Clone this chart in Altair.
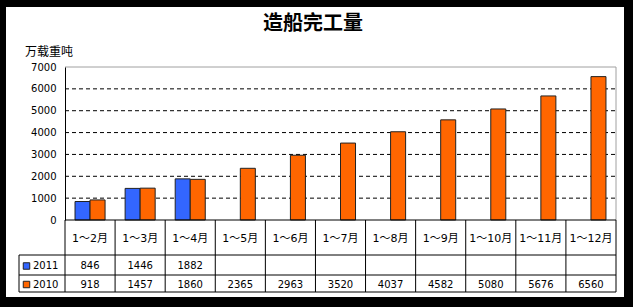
import altair as alt
import pandas as pd

categories = ["1～2月", "1～3月", "1～4月", "1～5月", "1～6月", "1～7月",
              "1～8月", "1～9月", "1～10月", "1～11月", "1～12月"]
v2011 = [846, 1446, 1882, None, None, None, None, None, None, None, None]
v2010 = [918, 1457, 1860, 2365, 2963, 3520, 4037, 4582, 5080, 5676, 6560]
series = ["2011", "2010"]
colors = ["#3366FF", "#FF6600"]
y_ticks = [0, 1000, 2000, 3000, 4000, 5000, 6000, 7000]
title_text = "造船完工量"
unit_text = "万载重吨"

W, H = 551, 153
ROW1, ROW2, ROW3 = 188, 208, 225  # table row bottoms (plot coords)
LEFTCOL = -46

rows = []
for c, a, b in zip(categories, v2011, v2010):
    rows.append({"cat": c, "series": "2011", "value": a})
    rows.append({"cat": c, "series": "2010", "value": b})
df = pd.DataFrame(rows)
df_bars = df.dropna()
one = pd.DataFrame({"k": [0]})
cats_df = pd.DataFrame({"cat": categories})
grid_df = pd.DataFrame({"g": y_ticks[1:-1]})
legend_df = pd.DataFrame({"series": series, "color": colors})

cjk = "Noto Sans CJK SC"
numfont = "DejaVu Sans, Noto Sans CJK SC"

xscale = alt.Scale(domain=categories, paddingInner=0, paddingOuter=0)
yscale = alt.Scale(domain=[0, 7000], nice=False)
cscale = alt.Scale(domain=series, range=colors)
yaxis = alt.Axis(values=y_ticks, format="d", grid=False, ticks=False, domainColor="black",
                 domainWidth=1, labelFont=numfont, labelFontSize=10,
                 labelColor="black", labelPadding=9, title=None, zindex=2)

bg = alt.Chart(one).mark_rect(fill="white").encode(
    x=alt.value(-59), x2=alt.value(559), y=alt.value(-60), y2=alt.value(230))

grid = alt.Chart(grid_df).mark_rule(color="black", strokeDash=[4, 3], strokeWidth=1).encode(
    y=alt.Y("g:Q", scale=yscale, axis=yaxis), x=alt.value(0), x2=alt.value(W))

top_border = alt.Chart(one).mark_rule(color="#a0a0a0").encode(
    x=alt.value(0), x2=alt.value(W), y=alt.value(0))
right_border = alt.Chart(one).mark_rule(color="#a0a0a0").encode(
    x=alt.value(W), y=alt.value(0), y2=alt.value(H))

bars = alt.Chart(df_bars).mark_bar(stroke="#222222", strokeWidth=1).encode(
    x=alt.X("cat:N", scale=xscale, axis=None, sort=categories),
    xOffset=alt.XOffset("series:N", scale=alt.Scale(domain=series, paddingInner=0, paddingOuter=0.667)),
    y=alt.Y("value:Q", scale=yscale, axis=yaxis),
    color=alt.Color("series:N", scale=cscale, legend=None),
)

# table lines
hlines = [
    alt.Chart(one).mark_rule(color="black").encode(x=alt.value(0), x2=alt.value(W), y=alt.value(H)),
    alt.Chart(one).mark_rule(color="black").encode(x=alt.value(LEFTCOL), x2=alt.value(W), y=alt.value(ROW1)),
    alt.Chart(one).mark_rule(color="black").encode(x=alt.value(LEFTCOL), x2=alt.value(W), y=alt.value(ROW2)),
    alt.Chart(one).mark_rule(color="black").encode(x=alt.value(LEFTCOL), x2=alt.value(W), y=alt.value(ROW3)),
]
vlines = [
    alt.Chart(cats_df).mark_rule(color="black").encode(
        x=alt.X("cat:N", scale=xscale, axis=None, bandPosition=0),
        y=alt.value(H), y2=alt.value(ROW3)),
    alt.Chart(one).mark_rule(color="black").encode(x=alt.value(W), y=alt.value(H), y2=alt.value(ROW3)),
    alt.Chart(one).mark_rule(color="black").encode(x=alt.value(LEFTCOL), y=alt.value(ROW1), y2=alt.value(ROW3)),
]

cat_text = alt.Chart(cats_df).mark_text(font=numfont, fontSize=11, color="black", baseline="middle").encode(
    x=alt.X("cat:N", scale=xscale, axis=None, bandPosition=0.5),
    y=alt.value((H + ROW1) / 2 + 1), text="cat:N")

def value_row(ser, ymid):
    d = df[(df["series"] == ser)].dropna()
    return alt.Chart(d).mark_text(font=numfont, fontSize=10, color="black", baseline="middle").encode(
        x=alt.X("cat:N", scale=xscale, axis=None, bandPosition=0.5),
        y=alt.value(ymid), text=alt.Text("value:Q", format="d"))

row2011 = value_row("2011", (ROW1 + ROW2) / 2 + 1)
row2010 = value_row("2010", (ROW2 + ROW3) / 2 + 1)

leg_sq = []
leg_tx = []
for i, (s, c) in enumerate(zip(series, colors)):
    ymid = (ROW1 + ROW2) / 2 + 1 if i == 0 else (ROW2 + ROW3) / 2 + 1
    d = legend_df[legend_df["series"] == s]
    leg_sq.append(alt.Chart(d).mark_point(shape="square", filled=True, size=42, fill=c,
                                          stroke="#222222", strokeWidth=1, opacity=1).encode(
        x=alt.value(-38.5), y=alt.value(ymid)))
    leg_tx.append(alt.Chart(d).mark_text(font=numfont, fontSize=10, color="black", align="left",
                                         baseline="middle").encode(
        x=alt.value(-32), y=alt.value(ymid), text="series:N"))

title = alt.Chart(one).mark_text(text=title_text, font=cjk, fontSize=20, fontWeight="bold",
                                 color="black", baseline="middle").encode(
    x=alt.value(248), y=alt.value(-43))
unit = alt.Chart(one).mark_text(text=unit_text, font=cjk, fontSize=12, color="black",
                                align="left", baseline="middle").encode(
    x=alt.value(-40), y=alt.value(-15))

chart = alt.layer(
    bg, grid, top_border, right_border, bars, *hlines, *vlines,
    cat_text, row2011, row2010, *leg_sq, *leg_tx, title, unit
).properties(
    width=W, height=H,
    autosize=alt.AutoSizeParams(type="none"),
    padding={"left": 65, "top": 67, "right": 17, "bottom": 87},
    background="black",
).configure_view(stroke=None)

chart.save("out.html", embed_options={"renderer": "svg", "actions": False})
